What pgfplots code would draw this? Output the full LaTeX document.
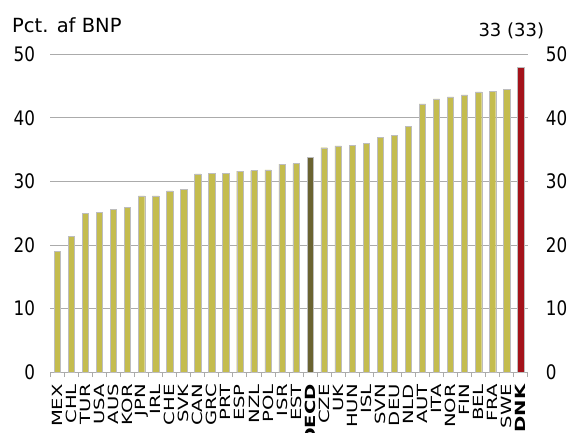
\documentclass[border=0pt]{standalone}
\usepackage{fontspec}
\setmainfont{DejaVu Sans}
\usepackage{graphicx}
\usepackage{pgfplots}
\pgfplotsset{compat=1.18}
\definecolor{baryel}{HTML}{C4BC4E}
\definecolor{bardark}{HTML}{6A6331}
\definecolor{barred}{HTML}{A4121A}
\definecolor{gridg}{HTML}{ABABAB}
\definecolor{edgeg}{HTML}{BDBDBD}
\newcommand{\xl}[1]{\scalebox{1.4}[1]{#1}}
\newcommand{\yl}[1]{\scalebox{0.84}[1]{#1}}
\begin{document}
\begin{tikzpicture}[x=1pt,y=1pt]
\useasboundingbox (0,0) rectangle (571,432);
\begin{axis}[
  at={(50.3pt,60pt)}, anchor=south west,
  scale only axis, width=477.4pt, height=317.7pt,
  xmin=-0.5, xmax=33.5, ymin=0, ymax=50,
  axis x line*=bottom, axis y line*=left,
  x axis line style={draw=gridg, line width=0.8pt},
  y axis line style={draw=none},
  ytick={0,10,...,50}, ytick style={draw=none},
  ymajorgrids, grid style={draw=gridg, line width=0.8pt},
  xtick={0,...,33},
  xticklabels={\xl{MEX},\xl{CHL},\xl{TUR},\xl{USA},\xl{AUS},\xl{KOR},\xl{JPN},\xl{IRL},\xl{CHE},\xl{SVK},\xl{CAN},\xl{GRC},\xl{PRT},\xl{ESP},\xl{NZL},\xl{POL},\xl{ISR},\xl{EST},\xl{\textbf{OECD}},\xl{CZE},\xl{UK},\xl{HUN},\xl{ISL},\xl{SVN},\xl{DEU},\xl{NLD},\xl{AUT},\xl{ITA},\xl{NOR},\xl{FIN},\xl{BEL},\xl{FRA},\xl{SWE},\xl{\textbf{DNK}}},
  xtick style={draw=none},
  minor xtick={-0.5,0.5,...,33.5},
  minor x tick style={draw=gridg, line width=0.8pt},
  tick align=outside, minor tick length=5pt, major tick length=0pt,
  xticklabel style={rotate=90, anchor=east, inner sep=0pt, xshift=-12pt, font=\fontsize{14}{14}\selectfont},
  yticklabel={\yl{\pgfmathprintnumber[assume math mode=true]{\tick}}},
  yticklabel style={anchor=east, inner sep=0pt, xshift=-15pt, font=\fontsize{20}{20}\selectfont},
]
\addplot[ybar, bar width=6.3pt, bar shift=0pt, fill=baryel, draw=edgeg, line width=0.4pt] coordinates {
(0,19.0) (1,21.4) (2,25.0) (3,25.1) (4,25.6) (5,25.9) (6,27.7) (7,27.7) (8,28.5) (9,28.8)
(10,31.2) (11,31.3) (12,31.3) (13,31.6) (14,31.7) (15,31.8) (16,32.7) (17,32.8)
(19,35.3) (20,35.6) (21,35.7) (22,36.0) (23,36.9) (24,37.2) (25,38.7) (26,42.2)
(27,43.0) (28,43.3) (29,43.6) (30,44.1) (31,44.2) (32,44.5)};
\addplot[ybar, bar width=6.3pt, bar shift=0pt, fill=bardark, draw=edgeg, line width=0.4pt] coordinates {(18,33.8)};
\addplot[ybar, bar width=6.3pt, bar shift=0pt, fill=barred, draw=edgeg, line width=0.4pt] coordinates {(33,48.0)};
\end{axis}
\begin{axis}[
  at={(50.3pt,60pt)}, anchor=south west,
  scale only axis, width=477.4pt, height=317.7pt,
  xmin=-0.5, xmax=33.5, ymin=0, ymax=50,
  axis x line=none, axis y line*=right,
  y axis line style={draw=none},
  ytick={0,10,...,50}, ytick style={draw=none},
  yticklabel={\yl{\pgfmathprintnumber[assume math mode=true]{\tick}}},
  yticklabel style={anchor=west, inner sep=0pt, xshift=18pt, font=\fontsize{20}{20}\selectfont},
]
\addplot[draw=none] coordinates {(0,0)};
\end{axis}
\node[anchor=base west, inner sep=0pt, font=\fontsize{19.5}{20}\selectfont] at (12,399.7) {Pct. af BNP};
\node[anchor=base west, inner sep=0pt, font=\fontsize{18}{20}\selectfont] at (478.3,395.3) {33 (33)};
\end{tikzpicture}
\end{document}
